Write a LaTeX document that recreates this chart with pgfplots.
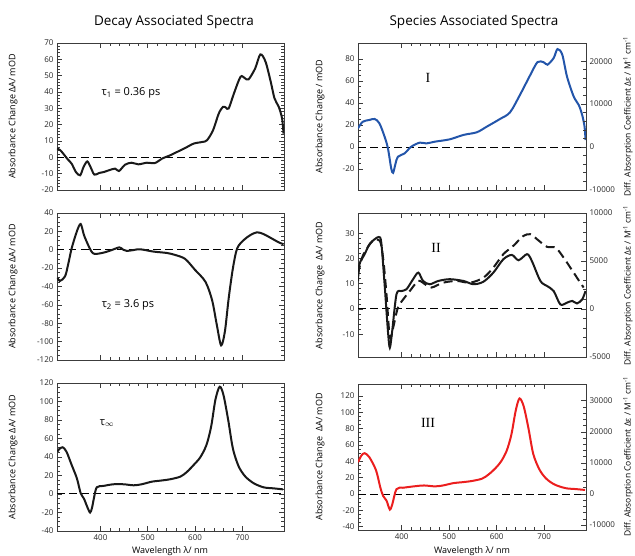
\documentclass[border=0pt]{standalone}
\usepackage{pgfplots}
\pgfplotsset{compat=1.18}
\usepackage{fontspec}
\setmainfont{Open Sans}
\newfontfamily\romfont{Liberation Serif}
\definecolor{sasblue}{RGB}{35,85,170}
\definecolor{sasred}{RGB}{235,30,30}
\definecolor{axgray}{RGB}{60,60,60}

\pgfplotsset{
  panel/.style={scale only axis, anchor=south west, xmin=308, xmax=788,
    xtick={400,500,600,700}, minor x tick num=4,
    tick align=inside, major tick length=5pt, minor tick length=2.8pt,
    axis line style={line width=0.9pt, axgray},
    tick style={line width=0.7pt, axgray},
    ticklabel style={font=\fontsize{8}{9}\selectfont, text=black!85},
    /pgf/number format/assume math mode=true,
    /pgf/number format/1000 sep={},
    scaled y ticks=false, scaled x ticks=false,
    xtick pos=both},
  nolabx/.style={xticklabels={}},
  zero/.style={black, line width=1pt, dash pattern=on 7.5pt off 4.5pt},
  curve/.style={line width=2pt, smooth, tension=0.5},
}

\begin{document}
\begin{tikzpicture}[x=1pt,y=1pt]
\useasboundingbox (0pt,0pt) rectangle (635pt,556pt);

% titles
\node[font=\fontsize{13.5}{15}\selectfont] at (174pt,534pt) {Decay Associated Spectra};
\node[font=\fontsize{13.5}{15}\selectfont] at (474pt,534pt) {Species Associated Spectra};

% ---------------- Left column ----------------
\begin{axis}[panel, nolabx, at={(57pt,366pt)}, width=227pt, height=147pt,
  ymin=-20, ymax=70, ytick={-20,-10,...,70}, minor y tick num=4, ytick pos=both]
\addplot[zero] coordinates {(308,0) (788,0)};
\addplot[curve, black!90] coordinates {
(308,5.3)(314,4.6)(322,2)(330,-1)(339,-3.9)(348,-9)(357,-11)(364,-6)(372,-2.5)(379,-6)(387,-10.6)(397,-9.6)(407,-9)(417,-8)(431,-6.9)(439,-8.4)(452,-4.5)(466,-3.3)(480,-4.3)(498,-3.3)(515,-3.5)(530,-0.8)(547,1.2)(562,3.3)(579,5.7)(597,8.4)(615,9.4)(625,10.4)(638,16.6)(650,26.8)(659,30.9)(665,30.5)(671,29.9)(682,39)(696,49.3)(705,48.5)(713,47.7)(727,54.4)(738,63)(749,58.5)(760,46.2)(768,36)(777,30.9)(784,23.7)(787,14.5)};
\end{axis}

\begin{axis}[panel, nolabx, at={(57pt,196pt)}, width=227pt, height=147pt,
  ymin=-120, ymax=40, ytick={-120,-100,...,40}, minor y tick num=3, ytick pos=both]
\addplot[zero] coordinates {(308,0) (788,0)};
\addplot[curve, black!90] coordinates {
(309,-30.4)(314,-34)(325,-29)(332,-15)(339,1.5)(350,20)(358,28)(365,16)(374,5)(381,-2)(388,-4.6)(406,-3.2)(424,-0.3)(440,2.6)(448,0)(456,-1.3)(470,-0.3)(484,0.5)(512,-2)(540,-3.5)(558,-5.7)(579,-10)(600,-22)(622,-35)(636,-55)(646,-82)(655,-104)(663,-89)(671,-53)(680,-20)(689,1.5)(703,10.6)(717,16)(731,19)(745,17)(763,12)(777,8)(787,6)};
\end{axis}

\begin{axis}[panel, at={(57pt,25pt)}, width=227pt, height=148pt,
  ymin=-40, ymax=120, ytick={-40,-20,...,120}, minor y tick num=3, ytick pos=both]
\addplot[zero] coordinates {(308,0) (788,0)};
\addplot[curve, black!90] coordinates {
(309,45.8)(313,48.7)(320,50.5)(328,45.8)(339,31.4)(350,17)(358,1)(365,-5)(372,-14)(378,-20)(382,-15)(386,-4.7)(392,7.2)(406,8.7)(427,10.5)(449,10.5)(470,9.4)(487,10.5)(509,13.4)(526,14.4)(547,15.9)(569,18.8)(583,24)(597,31.4)(611,39.7)(624,53)(634,73)(643,102)(652,116)(660,107)(670,80)(680,49)(692,30)(706,19)(724,11.6)(745,7.2)(766,6.1)(786,5)};
\end{axis}

% left ylabels and tau labels
\foreach \yc in {439.5,269.5,99} {
  \node[rotate=90, font=\fontsize{9}{10}\selectfont] at (13pt,\yc pt) {Absorbance Change ΔA/ mOD};
}
\node[font=\fontsize{11}{12}\selectfont] at (131pt,463pt) {τ\textsubscript{1} = 0.36 ps};
\node[font=\fontsize{11}{12}\selectfont] at (128pt,251pt) {τ\textsubscript{2} = 3.6 ps};
\node[font=\fontsize{11}{12}\selectfont] at (107pt,133pt) {τ\textsubscript{$\infty$}};
\node[font=\fontsize{9}{10}\selectfont, anchor=base] at (170pt,2pt) {Wavelength λ/ nm};

% ---------------- Right column ----------------
% Panel I
\begin{axis}[panel, nolabx, at={(358pt,366pt)}, width=228pt, height=147pt,
  ymin=-39, ymax=94.5, ytick={-20,0,...,80}, minor y tick num=3, ytick pos=left]
\addplot[zero] coordinates {(308,0) (788,0)};
\addplot[curve, sasblue] coordinates {
(308,17)(318,23)(332,24.6)(343,25.5)(353,21.6)(364,9.4)(371,-1.2)(378,-19.5)(382,-23.4)(387,-15)(392,-8.8)(406,-5.8)(420,0.3)(438,4)(452,3.3)(470,4.9)(501,7)(530,11)(558,13.4)(579,18.5)(607,25.5)(628,31.5)(649,47.4)(671,65.7)(686,77.2)(699,77)(707,74.8)(720,80.9)(728,89)(738,84)(748,64)(762,46)(773,38)(780,29)(785,18.5)(787,6.4)};
\end{axis}
\begin{axis}[panel, at={(358pt,366pt)}, width=228pt, height=147pt,
  axis x line=none, axis y line*=right, ymin=-10000, ymax=24230,
  ytick={-10000,0,10000,20000}, minor y tick num=4]
\addplot[draw=none] coordinates {(400,0)};
\end{axis}

% Panel II
\begin{axis}[panel, nolabx, at={(358pt,199pt)}, width=228pt, height=144pt,
  ymin=-19, ymax=38, ytick={-10,0,10,20,30}, minor y tick num=4, ytick pos=left]
\addplot[zero] coordinates {(308,0) (788,0)};
\addplot[curve, black!90, dash pattern=on 9pt off 5pt] coordinates {
(308,13.7)(318,21)(339,27)(354,27)(361,20)(368,5.8)(375,-11.4)(382,-7.4)(392,0.5)(406,4.5)(417,7.1)(435,11.1)(449,9.8)(463,8.5)(487,10.4)(516,11.1)(544,10.4)(572,12.4)(593,16.4)(614,21.7)(635,25)(656,28.9)(671,29.6)(685,27.6)(706,24.6)(724,24.3)(741,20.3)(762,14.4)(776,10.4)(783,8.5)};
\addplot[curve, black!90] coordinates {
(308,11)(311,17.7)(322,21.7)(332,25.6)(343,27.6)(352,28.5)(357,26.3)(364,9.8)(371,-8.7)(375,-15.3)(380,-8.7)(389,5.8)(399,7.1)(410,7.8)(424,11.8)(435,14.4)(445,11.1)(459,9.8)(477,11.1)(501,11.8)(530,11.1)(551,9.8)(572,10.8)(593,14.4)(614,19.7)(632,21.4)(646,19.3)(664,21.7)(674,19)(692,11.1)(706,9.1)(720,7.1)(734,1.8)(748,2.5)(759,3.2)(769,2.2)(780,3.8)(787,7.1)};
\end{axis}
\begin{axis}[panel, at={(358pt,199pt)}, width=228pt, height=144pt,
  axis x line=none, axis y line*=right, ymin=-5000, ymax=10000,
  ytick={-5000,0,5000,10000}, minor y tick num=4]
\addplot[draw=none] coordinates {(400,0)};
\end{axis}

% Panel III
\begin{axis}[panel, at={(358pt,26pt)}, width=228pt, height=146pt,
  ymin=-44, ymax=134.7, ytick={-40,-20,...,120}, minor y tick num=3, ytick pos=left]
\addplot[zero] coordinates {(308,0) (788,0)};
\addplot[curve, sasred] coordinates {
(308,39)(315,47)(322,50)(332,45)(346,29)(355,8)(361,-2.4)(368,-8)(375,-19)(380,-13)(389,6)(403,7.7)(427,9.5)(447,10.5)(470,9.4)(487,10.5)(509,13.4)(526,14.4)(547,15.9)(569,18.8)(583,24)(597,31.4)(609,39.7)(621,53)(631,73)(640,102)(648,117)(657,107)(667,80)(677,49)(690,30)(704,19)(722,11.6)(745,7.2)(766,6.1)(786,5)};
\end{axis}
\begin{axis}[panel, at={(358pt,26pt)}, width=228pt, height=146pt,
  axis x line=none, axis y line*=right, ymin=-11572, ymax=35426,
  ytick={-10000,0,10000,20000,30000}, minor y tick num=4]
\addplot[draw=none] coordinates {(400,0)};
\end{axis}

% right column labels
\node[rotate=90, font=\fontsize{9}{10}\selectfont] at (320pt,439.5pt) {Absorbance Change / mOD};
\node[rotate=90, font=\fontsize{9}{10}\selectfont] at (320pt,270.5pt) {Absorbance Change\ \ ΔA/ mOD};
\node[rotate=90, font=\fontsize{9}{10}\selectfont] at (320pt,99pt) {Absorbance Change\ \ ΔA/ mOD};
\foreach \yc in {439.5,270.5,99} {
  \node[rotate=90, font=\fontsize{8.5}{10}\selectfont] at (628pt,\yc pt) {Diff. Absorption Coefficient Δε / M\textsuperscript{-1} cm\textsuperscript{-1}};
}
\node[font=\romfont\fontsize{14}{15}\selectfont] at (428pt,478pt) {I};
\node[font=\romfont\fontsize{14}{15}\selectfont] at (436pt,308pt) {II};
\node[font=\romfont\fontsize{14}{15}\selectfont] at (428pt,133pt) {III};
\node[font=\fontsize{9}{10}\selectfont, anchor=base] at (472pt,2pt) {Wavelength λ/ nm};
\end{tikzpicture}
\end{document}
